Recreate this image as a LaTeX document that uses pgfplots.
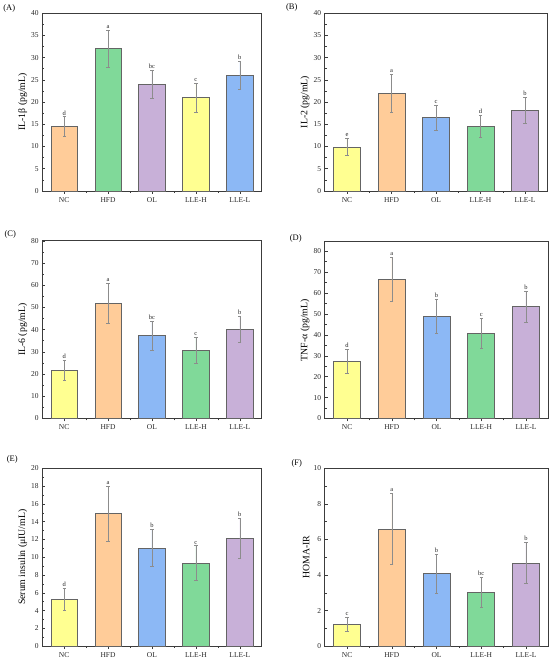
\documentclass[border=0pt]{standalone}
\usepackage{fontspec}
\setmainfont{Liberation Serif}
\usepackage{pgfplots}
\pgfplotsset{compat=1.18}
\definecolor{cOrange}{RGB}{255,204,153}
\definecolor{cGreen}{RGB}{128,217,153}
\definecolor{cPurple}{RGB}{200,176,216}
\definecolor{cYellow}{RGB}{255,255,145}
\definecolor{cBlue}{RGB}{140,184,245}
\definecolor{axgray}{RGB}{60,60,60}
\definecolor{bargray}{RGB}{100,100,100}
\definecolor{errgray}{RGB}{140,140,140}
\pgfplotsset{
 panel/.style={
  scale only axis, width=220pt, height=178pt,
  xmin=-0.5, xmax=4.5, ymin=0,
  xtick={0,1,2,3,4}, xticklabels={NC,HFD,OL,LLE-H,LLE-L},
  minor xtick={0.5,1.5,2.5,3.5},
  xtick pos=bottom, ytick pos=left, tick align=inside,
  major tick length=3pt, minor tick length=2pt, minor y tick num=1,
  axis line style={draw=axgray, line width=0.7pt},
  every tick/.style={draw=axgray, line width=0.5pt},
  ticklabel style={font=\fontsize{7.5}{8}\selectfont, text=black!85},
  /pgf/number format/assume math mode=true,
  ybar, bar width=0.6, bar shift=0pt,
  ylabel style={font=\fontsize{9.8}{10}\selectfont, at={(axis description cs:-0.052,0.5)}, anchor=south},
  clip=false,
 },
 bb/.style={fill=#1, draw=bargray, line width=0.65pt,
  /pgfplots/error bars/y dir=both, /pgfplots/error bars/y explicit,
  /pgfplots/error bars/error bar style={draw=errgray, line width=0.4pt},
  /pgfplots/error bars/error mark options={rotate=90, mark size=1.6pt, draw=errgray, line width=0.4pt}},
}
\tikzset{plab/.style={font=\fontsize{8.5}{9}\selectfont},
 lbl/.style={anchor=south, inner sep=0.6pt, yshift=0.8pt, font=\fontsize{6.5}{6.5}\selectfont, text=black!85}}
\begin{document}
\begin{tikzpicture}
\path (0,0) rectangle (550pt,661pt);
% (A)
\node[plab] at (9pt,653pt) {(A)};
\begin{axis}[panel, at={(42pt,470pt)}, anchor=south west, ymax=40, ytick={0,5,...,40}, ylabel={IL-1β (pg/mL)}]
\addplot[bb=cOrange] coordinates {(0,14.5) +- (0,2.2)};
\addplot[bb=cGreen] coordinates {(1,32.0) +- (0,4.1)};
\addplot[bb=cPurple] coordinates {(2,24.0) +- (0,3.1)};
\addplot[bb=cYellow] coordinates {(3,21.0) +- (0,3.3)};
\addplot[bb=cBlue] coordinates {(4,26.0) +- (0,3.1)};
\node[lbl] at (axis cs:0,16.7) {d};
\node[lbl] at (axis cs:1,36.1) {a};
\node[lbl] at (axis cs:2,27.1) {bc};
\node[lbl] at (axis cs:3,24.3) {c};
\node[lbl] at (axis cs:4,29.1) {b};
\end{axis}
% (B)
\node[plab] at (292pt,654pt) {(B)};
\begin{axis}[panel, width=223pt, at={(325pt,470pt)}, anchor=south west, ymax=40, ytick={0,5,...,40}, ylabel={IL-2 (pg/mL)}]
\addplot[bb=cYellow] coordinates {(0,9.9) +- (0,1.9)};
\addplot[bb=cOrange] coordinates {(1,22.0) +- (0,4.2)};
\addplot[bb=cBlue] coordinates {(2,16.5) +- (0,2.8)};
\addplot[bb=cGreen] coordinates {(3,14.5) +- (0,2.5)};
\addplot[bb=cPurple] coordinates {(4,18.1) +- (0,2.9)};
\node[lbl] at (axis cs:0,11.8) {e};
\node[lbl] at (axis cs:1,26.2) {a};
\node[lbl] at (axis cs:2,19.3) {c};
\node[lbl] at (axis cs:3,17.0) {d};
\node[lbl] at (axis cs:4,21.0) {b};
\end{axis}
% (C)
\node[plab] at (10pt,426pt) {(C)};
\begin{axis}[panel, at={(42pt,242pt)}, anchor=south west, ymax=80, ytick={0,10,...,80}, ylabel={IL-6 (pg/mL)}]
\addplot[bb=cYellow] coordinates {(0,21.7) +- (0,4.5)};
\addplot[bb=cOrange] coordinates {(1,51.8) +- (0,9.0)};
\addplot[bb=cBlue] coordinates {(2,37.4) +- (0,6.5)};
\addplot[bb=cGreen] coordinates {(3,30.9) +- (0,5.8)};
\addplot[bb=cPurple] coordinates {(4,40.2) +- (0,5.8)};
\node[lbl] at (axis cs:0,26.2) {d};
\node[lbl] at (axis cs:1,60.8) {a};
\node[lbl] at (axis cs:2,43.9) {bc};
\node[lbl] at (axis cs:3,36.7) {c};
\node[lbl] at (axis cs:4,46.0) {b};
\end{axis}
% (D)
\node[plab] at (296pt,422pt) {(D)};
\begin{axis}[panel, width=224pt, height=177pt, at={(325pt,242pt)}, anchor=south west, ymax=84.5, ytick={0,10,...,80}, ylabel={TNF-α (pg/mL)}]
\addplot[bb=cYellow] coordinates {(0,27.3) +- (0,5.7)};
\addplot[bb=cOrange] coordinates {(1,66.6) +- (0,10.4)};
\addplot[bb=cBlue] coordinates {(2,48.8) +- (0,8.1)};
\addplot[bb=cGreen] coordinates {(3,40.8) +- (0,7.0)};
\addplot[bb=cPurple] coordinates {(4,53.5) +- (0,7.6)};
\node[lbl] at (axis cs:0,33.0) {d};
\node[lbl] at (axis cs:1,77.0) {a};
\node[lbl] at (axis cs:2,56.9) {b};
\node[lbl] at (axis cs:3,47.8) {c};
\node[lbl] at (axis cs:4,61.1) {b};
\end{axis}
% (E)
\node[plab] at (12pt,201pt) {(E)};
\begin{axis}[panel, at={(42pt,14pt)}, anchor=south west, ymax=20, ytick={0,2,...,20}, ylabel={Serum insulin (μIU/mL)}]
\addplot[bb=cYellow] coordinates {(0,5.27) +- (0,1.23)};
\addplot[bb=cOrange] coordinates {(1,14.95) +- (0,3.1)};
\addplot[bb=cBlue] coordinates {(2,11.05) +- (0,2.1)};
\addplot[bb=cGreen] coordinates {(3,9.36) +- (0,1.95)};
\addplot[bb=cPurple] coordinates {(4,12.15) +- (0,2.25)};
\node[lbl] at (axis cs:0,6.5) {d};
\node[lbl] at (axis cs:1,18.05) {a};
\node[lbl] at (axis cs:2,13.15) {b};
\node[lbl] at (axis cs:3,11.3) {c};
\node[lbl] at (axis cs:4,14.4) {b};
\end{axis}
% (F)
\node[plab] at (297pt,197pt) {(F)};
\begin{axis}[panel, width=224pt, at={(325pt,14pt)}, anchor=south west, ymax=10, ytick={0,2,...,10}, ylabel={HOMA-IR}]
\addplot[bb=cYellow] coordinates {(0,1.25) +- (0,0.4)};
\addplot[bb=cOrange] coordinates {(1,6.6) +- (0,2.0)};
\addplot[bb=cBlue] coordinates {(2,4.08) +- (0,1.08)};
\addplot[bb=cGreen] coordinates {(3,3.02) +- (0,0.85)};
\addplot[bb=cPurple] coordinates {(4,4.68) +- (0,1.15)};
\node[lbl] at (axis cs:0,1.65) {c};
\node[lbl] at (axis cs:1,8.6) {a};
\node[lbl] at (axis cs:2,5.16) {b};
\node[lbl] at (axis cs:3,3.87) {bc};
\node[lbl] at (axis cs:4,5.83) {b};
\end{axis}
\end{tikzpicture}
\end{document}
